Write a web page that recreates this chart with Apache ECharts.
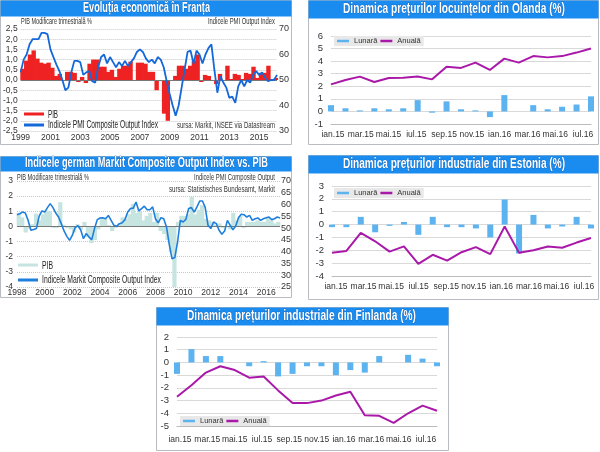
<!DOCTYPE html>
<html>
<head>
<meta charset="utf-8">
<style>html,body{margin:0;padding:0;background:#fff}#chart{width:600px;height:452px}</style>
<script src="https://cdn.jsdelivr.net/npm/echarts@6/dist/echarts.min.js"></script>
</head>
<body>
<div id="chart"></div>
<script>
// PIB Franta, trimestrial din 1999
var pibFranta = [.55,.95,1.25,1.45, 1.05,.85,.8,.85, .6,.2,.3,0, .4,.4,.35,-.1, .15,-.15,.8,1, 1,.65,.65,.4,
  .5,.15,.55,.7, .7,.9,0,.85, .85,.8,.4,.4, -.5,-.05,-1.65,-2, -.05,.2,.7,.7, .55,.7,.95,1.25,
  -.1,.25,.2,-.05, -.2,.3,-.05,.7, .05,.3,.25,.05, .35,.3,.65,.1, .35,.35,.7,.05,.1];
// PMI Franta, un punct la 0,2 ani
var pmiFranta = [53,58,60,64,66,66,66,68.5,68.5,68,62,59,56,53.5,50,46,47,53,57.5,57.5,57,52,53,53.5,49.5,49,55,59,60,56.5,59,57,55,57,55.5,57.5,55.5,57,58.5,61,62,61,58.5,57,58,56.5,59,58,55,49.5,44.5,40,36,40,47,54,61,61.5,56.5,61.5,60,56.5,60,62.5,64,54,45,51.5,49,47,43,43.5,41,47.5,50,47.5,50,49,52,53.5,52,53,51,49.5,50,50,52];
// PIB Germania, trimestrial din 1998
var pibGermania = [.9,.6,-.4,-.15, .15,.85,.4,.8, 1.05,1,-.1,-.1, 1.6,.1,-.1,-.2, -.4,.15,-.2,.3, -.7,-1.1,-.9,-.2,
  .6,.5,.1,-.3, -.1,.2,.6,.5, .8,1.5,.9,1, .4,.7,.9,.3, .9,-.3,-.5,-.9, -1.7,-4,.3,.7,
  .7,.8,1.95,.8, 1.1,1.4,.5,.4, .3,.1,.2,-.1, 0,-.2,.9,.4, .7,-.1,.3,.3, .3,.4,.3,.3, .6,.4,.2,.3];
var pmiGermania = [55.7,56.1,56.8,56.4,53.3,49.1,49.4,49.8,55.1,57.3,56.8,58.7,60.4,58.7,56.4,54.7,51.9,48.8,46.5,44.8,47,50.2,51,49.3,45.5,47.7,46.2,45.1,49.8,53.6,54.3,54.4,54,55.4,53.3,51.2,50.8,51.9,52.3,53.6,56.8,58.3,58.5,61.1,57.3,58.3,59.3,57.8,57.8,59,54,52.2,54.4,54,50.5,43.1,37,37.5,44.1,53.3,52.6,53.7,58.3,58.7,56.8,59,61.5,61.5,58.7,51.2,49.8,52.6,51.9,49.1,47.4,48.8,53.3,51.2,49.3,50.9,54.4,55.9,55.7,54.7,55.4,53.3,54,54.3,53.3,54,54.4,54.7,53.6,54,54.7,54.3];

var luni = ['ian.15','feb.15','mar.15','apr.15','mai.15','iun.15','iul.15','aug.15','sep.15','oct.15','nov.15','dec.15','ian.16','feb.16','mar.16','apr.16','mai.16','iun.16','iul.16'];
var luniEtichete = ['ian.15','mar.15','mai.15','iul.15','sep.15','nov.15','ian.16','mar.16','mai.16','iul.16'];
var olandaLunara = [.5,.25,.08,.25,.17,.25,.9,-.1,.8,.17,.08,-.45,1.3,0,.5,.17,.37,.55,1.2];
var olandaAnuala = [2.15,2.5,2.77,2.34,2.66,2.68,2.77,2.55,3.56,3.46,3.88,3.3,4.2,3.88,4.4,4.3,4.4,4.68,5];
var estoniaLunara = [-.2,-.2,.6,-.6,-.1,.2,-.8,.6,-.2,-.2,-.3,-1,1.95,-2.25,.75,-.3,-.15,.6,-.3];
var estoniaAnuala = [-2.2,-2.05,-.65,-1.3,-2.1,-1.7,-3.05,-2.35,-2.8,-2.15,-1.75,-2.3,-.15,-2.2,-2,-1.7,-1.8,-1.4,-1.05];
var finlandaLunara = [-.9,1.05,.5,.5,0,-.3,.1,-1.1,-.9,-.3,-.3,-1,-.6,-.8,.5,0,.6,.3,-.3];
var finlandaAnuala = [-2.7,-1.8,-.8,-.3,-.6,-1.2,-1.1,-2.2,-3.2,-3.2,-3,-2.6,-2.3,-4.15,-4.2,-4.75,-4,-3.4,-3.8];

var normal = '"Liberation Sans", Arial, sans-serif';
var grila = { show: true, lineStyle: { color: '#d9d9d9', width: 1 } };
var grilaPunct = { show: true, lineStyle: { color: '#c8c8c8', type: 'dotted', width: 1 } };
var masura = document.createElement('canvas').getContext('2d');

function virgula(v) { return v.toFixed(1).replace('.', ','); }

// fundal + banda de titlu pentru un panou
function panou(x, y, w, h, banda) {
  return [
    { type: 'rect', z: -10, shape: { x: x, y: y, width: w, height: h }, style: { fill: '#fff', stroke: '#b8bcc0', lineWidth: 1 } },
    { type: 'rect', z: -9, shape: { x: x, y: y, width: w, height: banda }, style: { fill: '#1a8cf0' } }
  ];
}
// text ingustat pe orizontala pana la latimea ceruta (fontul ingust nu e instalat)
function textIngust(x1, x2, y, t, font, culoare, extra) {
  masura.font = font;
  var s = { text: t, fill: culoare || '#333', font: font, textAlign: 'left', textVerticalAlign: 'middle' };
  if (extra) Object.keys(extra).forEach(function (k) { s[k] = extra[k]; });
  return { type: 'text', z: 10, x: x1, y: y, scaleX: (x2 - x1) / masura.measureText(t).width, style: s };
}
function titlu(x1, x2, y, t) {
  return textIngust(x1, x2, y, t, 'bold 14px ' + normal, '#fff', { stroke: '#0d4f9e', lineWidth: 0.6 });
}
function mic(x1, x2, y, t) { return textIngust(x1, x2, y, t, '9.5px ' + normal); }
function legendaText(x1, x2, y, t) { return textIngust(x1, x2, y, t, '11px ' + normal, '#222'); }
function legendaBara(x1, x2, y, culoare) {
  return { type: 'rect', z: 10, shape: { x: x1, y: y - 1.5, width: x2 - x1, height: 3 }, style: { fill: culoare } };
}
function perechi(start, pas, valori) {
  return valori.map(function (v, i) { return [start + i * pas, v]; });
}
function liniaZero() {
  return { silent: true, symbol: 'none', label: { show: false }, animation: false, lineStyle: { color: '#777', type: 'solid', width: 1 }, data: [{ yAxis: 0 }] };
}

var grid = [
  { left: 19, top: 29, width: 258, height: 102 },
  { left: 17, top: 181, width: 263, height: 106 },
  { left: 331, top: 36, width: 260, height: 88 },
  { left: 332, top: 186, width: 259, height: 90 },
  { left: 177, top: 337, width: 260, height: 89 },
  // griduri doar pentru etichetele de luni
  { left: 333, top: 36, width: 250, height: 88 },
  { left: 336, top: 186, width: 248, height: 90 },
  { left: 180, top: 337, width: 246, height: 89 }
];
var xAxis = [
  { type: 'value', gridIndex: 0, min: 1999, max: 2016.2, interval: 2, splitLine: { show: false }, axisTick: { show: false },
    axisLine: { show: false }, axisLabel: { showMaxLabel: false, margin: 2, fontFamily: normal, fontSize: 8.5, color: '#333', formatter: String } },
  { type: 'value', gridIndex: 1, min: 1998, max: 2017, interval: 2, splitLine: { show: false }, axisTick: { show: false },
    axisLine: { show: false }, axisLabel: { showMaxLabel: false, margin: 1, fontFamily: normal, fontSize: 8.5, color: '#333', formatter: String } }
];
[2, 3, 4].forEach(function (g) {
  xAxis.push({ type: 'category', gridIndex: g, data: luni, boundaryGap: false, axisTick: { show: false },
    axisLine: { onZero: false, lineStyle: { color: '#bbb' } }, splitLine: { show: false }, axisLabel: { show: false } });
});
[5, 6, 7].forEach(function (g) {
  xAxis.push({ type: 'category', gridIndex: g, data: luniEtichete, boundaryGap: false, axisTick: { show: false }, axisLine: { show: false },
    splitLine: { show: false }, axisLabel: { interval: 0, margin: g == 7 ? 9 : 6, fontFamily: normal, fontSize: 8.5, color: '#333' } });
});
function axaLunara(g, min, max) {
  return { type: 'value', gridIndex: g, min: min, max: max, interval: 1, splitLine: grila, axisLine: { show: false }, axisTick: { show: false },
    axisLabel: { margin: 8, fontFamily: normal, fontSize: 9.5, color: '#333' } };
}
var yAxis = [
  { type: 'value', gridIndex: 0, min: -2.5, max: 2.5, interval: .5, splitLine: grilaPunct, axisLine: { show: false }, axisTick: { show: false },
    axisLabel: { margin: 3, padding: [0, 0, 5, 0], fontFamily: normal, fontSize: 8.5, color: '#333', formatter: virgula } },
  { type: 'value', gridIndex: 0, position: 'right', min: 30, max: 70, interval: 10, splitLine: { show: false }, axisLine: { show: false }, axisTick: { show: false },
    axisLabel: { margin: 2, padding: [0, 0, 5, 0], fontFamily: normal, fontSize: 9, color: '#333' } },
  { type: 'value', gridIndex: 1, min: -4, max: 3, interval: 1, splitLine: grilaPunct, axisLine: { show: false }, axisTick: { show: false },
    axisLabel: { margin: 4, fontFamily: normal, fontSize: 8.5, color: '#333' } },
  { type: 'value', gridIndex: 1, position: 'right', min: 25, max: 70, interval: 5, splitLine: { show: false }, axisLine: { show: false }, axisTick: { show: false },
    axisLabel: { margin: 1, fontFamily: normal, fontSize: 9, color: '#333' } },
  axaLunara(2, -1, 6),
  axaLunara(3, -4, 3),
  axaLunara(4, -5, 2)
];
[5, 6, 7].forEach(function (g) { yAxis.push({ type: 'value', gridIndex: g, show: false }); });

var series = [
  { name: 'PIB', type: 'bar', xAxisIndex: 0, yAxisIndex: 0, barWidth: 4.4, itemStyle: { color: '#ee2222' },
    data: perechi(1999.125, .25, pibFranta), markLine: liniaZero() },
  { name: 'Indicele PMI Composite Output Index', type: 'line', xAxisIndex: 0, yAxisIndex: 1, showSymbol: false, z: 5,
    lineStyle: { color: '#1568d8', width: 1.8 }, itemStyle: { color: '#1568d8' }, data: perechi(1999, .2, pmiFranta) },
  { name: 'PIB ', type: 'bar', xAxisIndex: 1, yAxisIndex: 2, barWidth: 4.2, itemStyle: { color: '#c6e4e0' },
    data: perechi(1998.125, .25, pibGermania), markLine: liniaZero() },
  { name: 'Indicele Markit Composite Output Index', type: 'line', xAxisIndex: 1, yAxisIndex: 3, showSymbol: false, z: 5,
    lineStyle: { color: '#1f7fdc', width: 1.6 }, itemStyle: { color: '#1f7fdc' }, data: perechi(1998, .2, pmiGermania) }
];
[[olandaLunara, olandaAnuala], [estoniaLunara, estoniaAnuala], [finlandaLunara, finlandaAnuala]].forEach(function (d, i) {
  series.push({ name: 'Lunară', type: 'bar', xAxisIndex: i + 2, yAxisIndex: i + 4, barWidth: 6, itemStyle: { color: '#5cb3f0' }, data: d[0] });
  series.push({ name: 'Anuală', type: 'line', xAxisIndex: i + 2, yAxisIndex: i + 4, showSymbol: false, z: 5,
    lineStyle: { color: '#aa18aa', width: 2 }, itemStyle: { color: '#aa18aa' }, data: d[1] });
});

function legendaLuni(x, y) {
  return { left: x, top: y, data: ['Lunară', 'Anuală'], icon: 'rect', itemWidth: 12, itemHeight: 2.5, itemGap: 3, padding: [1, 3], backgroundColor: '#e8e8e8',
    textStyle: { fontFamily: normal, fontSize: 7.5, color: '#333' } };
}
var legend = [legendaLuni(334, 36), legendaLuni(334, 188), legendaLuni(180, 416)];

var graphicEl = [].concat(
  panou(0.5, 0.5, 291, 144, 16), panou(0.5, 156.5, 291, 141, 15),
  panou(308.5, 0.5, 290, 144, 18), panou(308.5, 155.5, 290, 144, 18),
  panou(156.5, 307.5, 292, 143, 18),
  [titlu(83, 210, 8, 'Evoluția economică în Franța'),
   titlu(25, 268, 163, 'Indicele german Markit Composite Output Index vs. PIB'),
   titlu(343, 565, 9, 'Dinamica prețurilor locuințelor din Olanda (%)'),
   titlu(343, 565, 164, 'Dinamica prețurilor industriale din Estonia (%)'),
   titlu(187, 416, 316, 'Dinamica prețurilor industriale din Finlanda (%)'),
   mic(21, 92, 21, 'PIB Modificare trimestrială %'), mic(208, 275, 21, 'Indicele PMI Output Index'),
   mic(177, 275, 125, 'sursa: Markit, INSEE via Datastream'),
   mic(17, 89, 177, 'PIB Modificare trimestrială %'), mic(194, 275, 177, 'Indicele PMI Composite Output'),
   mic(169, 275, 189, 'sursa: Statistisches Bundesamt, Markit'),
   legendaBara(24, 44, 114, '#ee2222'), legendaText(48, 58, 115, 'PIB'),
   legendaBara(24, 44, 125, '#1568d8'), legendaText(48, 158, 125, 'Indicele PMI Composite Output Index'),
   legendaBara(18, 38, 265, '#c6e4e0'), legendaText(42, 53, 266, 'PIB'),
   legendaBara(18, 38, 280, '#1f7fdc'), legendaText(42, 161, 280, 'Indicele Markit Composite Output Index')]
);

var chart = echarts.init(document.getElementById('chart'));
chart.setOption({
  animation: false,
  backgroundColor: '#fff',
  grid: grid, xAxis: xAxis, yAxis: yAxis, series: series, legend: legend,
  graphic: { elements: graphicEl }
});
</script>
</body>
</html>
